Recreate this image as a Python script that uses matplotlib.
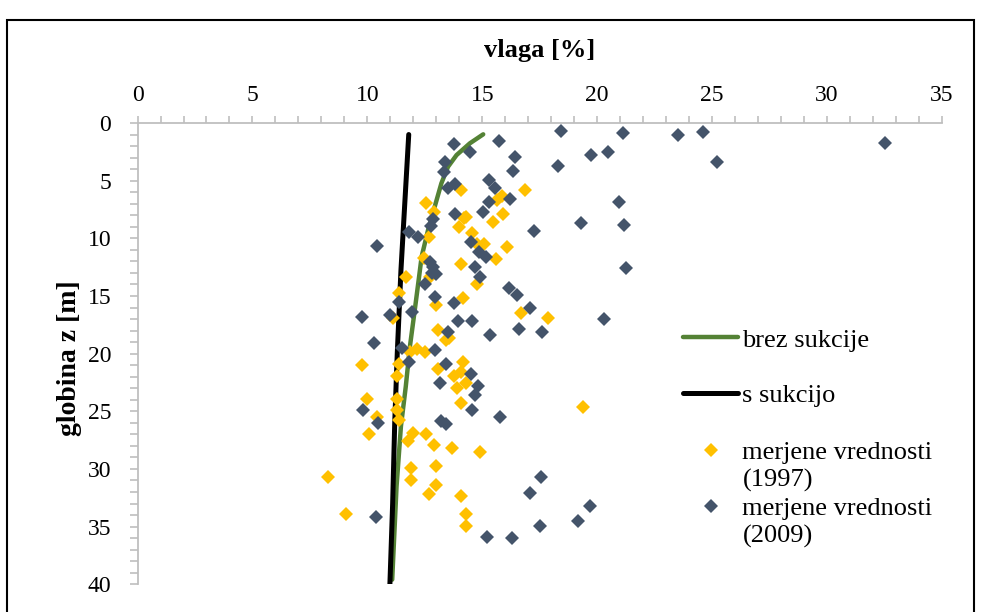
import numpy as np
import matplotlib.pyplot as plt
from matplotlib.patches import Rectangle
from matplotlib.lines import Line2D
from matplotlib.ticker import MultipleLocator

plt.rcParams['font.family'] = ['Liberation Serif', 'DejaVu Serif']

# modelirana profila vlage (vlaga [%], globina [m])
brez_vlaga = [15.04, 14.46, 13.88, 13.51, 13.22, 12.93, 12.64, 12.36, 12.25, 12.10, 11.85, 11.67, 11.46, 11.27, 11.08]
brez_z = [0.98, 1.76, 2.78, 3.79, 5.23, 7.26, 9.28, 11.6, 13.33, 15.64, 19.4, 22.87, 26.3, 31.5, 39.6]

s_vlaga = [11.80, 11.67, 11.46, 11.30, 11.19, 11.10, 10.98]
s_z = [1.0, 5.5, 12.8, 20.0, 26.0, 33.0, 40.0]

# meritve 1997
v1997 = [14.08, 16.88, 12.57, 12.89, 15.66, 15.86, 14.21, 14.28, 13.99, 15.47,
         15.88, 12.70, 14.57, 14.75, 15.08, 16.08, 12.46, 14.08, 15.59, 11.67,
         12.72, 14.76, 14.17, 11.38, 12.98, 16.67, 17.88, 11.12, 13.08, 13.40,
         13.54, 11.85, 12.18, 12.50, 9.77, 11.37, 11.28, 14.17, 13.08, 13.77,
         14.07, 13.89, 14.27, 9.99, 11.28, 14.07, 11.28, 10.40, 11.38, 19.38,
         10.08, 11.99, 11.77, 12.57, 12.88, 13.67, 14.88, 11.88, 12.98, 8.30,
         11.88, 12.98, 12.69, 14.07, 9.08, 14.27, 14.27]
z1997 = [5.78, 5.78, 6.93, 7.72, 6.68, 6.36, 8.27, 8.13, 8.99, 8.56,
         7.89, 9.89, 9.51, 10.50, 10.50, 10.73, 11.74, 12.23, 11.82, 13.33,
         13.33, 13.93, 15.15, 14.71, 15.76, 16.51, 16.88, 16.94, 17.95, 18.82,
         18.62, 19.86, 19.63, 19.86, 20.96, 20.87, 21.91, 20.76, 21.34, 21.94,
         21.57, 22.98, 22.55, 23.94, 23.91, 24.31, 24.89, 25.47, 25.76, 24.63,
         26.95, 26.91, 27.55, 26.95, 27.93, 28.19, 28.56, 29.95, 29.75, 30.67,
         30.93, 31.42, 32.15, 32.35, 33.91, 33.91, 34.95]

# meritve 2009
v2009 = [13.77, 14.46, 15.73, 13.37, 13.34, 13.80, 13.51, 16.44, 16.34, 18.30,
         15.28, 15.57, 16.22, 15.30, 15.05, 13.82, 12.86, 12.79, 11.82, 12.21,
         10.44, 17.23, 14.49, 14.86, 15.14, 14.67, 14.90, 12.72, 12.86, 12.83,
         12.97, 12.50, 16.17, 16.49, 12.96, 13.76, 11.38, 11.96, 10.98, 9.77,
         17.07, 13.96, 14.56, 16.59, 17.59, 15.34, 13.51, 10.28, 11.50, 12.96,
         11.82, 13.41, 14.49, 14.82, 13.14, 14.70, 9.80, 14.57, 15.76, 10.47,
         13.20, 13.40, 20.28, 17.54, 19.69, 19.17, 17.07, 10.37, 17.53, 15.22,
         16.30, 18.44, 21.12, 23.53, 24.59, 32.53, 19.72, 20.46, 25.23, 20.96,
         19.30, 21.17, 21.25]
z2009 = [1.82, 2.54, 1.56, 3.41, 4.22, 5.29, 5.67, 2.95, 4.16, 3.70,
         4.97, 5.61, 6.59, 6.88, 7.75, 7.92, 8.33, 8.93, 9.48, 9.89,
         10.64, 9.39, 10.29, 11.19, 11.59, 12.46, 13.33, 12.08, 12.46, 13.04,
         13.10, 13.96, 14.31, 14.92, 15.06, 15.61, 15.50, 16.39, 16.62, 16.83,
         16.07, 17.20, 17.20, 17.89, 18.15, 18.35, 18.13, 19.11, 19.49, 19.72,
         20.76, 20.87, 21.80, 22.84, 22.55, 23.62, 24.92, 24.86, 25.47, 25.99,
         25.85, 26.10, 17.00, 30.67, 33.19, 34.55, 32.12, 34.17, 34.92, 35.90,
         35.99, 0.72, 0.90, 1.01, 0.78, 1.76, 2.75, 2.52, 3.38, 6.88,
         8.70, 8.85, 12.58]

zelena = '#548235'
temna = '#44546A'
rumena = '#FFC000'
siva = '#BFBFBF'

fig = plt.figure(figsize=(9.81, 6.12), dpi=100)
ax = fig.add_axes([0.1402, 0.0453, 0.82, 0.7537])

l1, = ax.plot(brez_vlaga, brez_z, color=zelena, lw=3.2, solid_capstyle='round', label='brez sukcije')
l2, = ax.plot(s_vlaga, s_z, color='black', lw=3.6, solid_capstyle='round', label='s sukcijo')
m1, = ax.plot(v1997, z1997, 'D', color=rumena, ms=7.5, mew=0, label='merjene vrednosti')
m2, = ax.plot(v2009, z2009, 'D', color=temna, ms=7.5, mew=0, label='merjene vrednosti')

ax.set_xlim(0, 35)
ax.set_ylim(40, 0)
ax.xaxis.set_major_locator(MultipleLocator(5))
ax.xaxis.set_minor_locator(MultipleLocator(1))
ax.yaxis.set_major_locator(MultipleLocator(5))
ax.yaxis.set_minor_locator(MultipleLocator(1))
ax.xaxis.tick_top()

for s in ['right', 'bottom']:
    ax.spines[s].set_visible(False)
for s in ['top', 'left']:
    ax.spines[s].set_color(siva)
    ax.spines[s].set_linewidth(1.3)

ax.tick_params(axis='x', which='both', direction='out', length=5, width=1.2, color=siva, labelsize=17, pad=7)
ax.tick_params(axis='y', which='both', direction='out', length=6, width=1.2, color=siva, labelsize=17, pad=13)

ax.xaxis.set_label_position('top')
ax.set_xlabel('vlaga [%]', fontsize=19, fontweight='bold', va='center')
ax.xaxis.set_label_coords(0.5, 1.157)
ax.set_ylabel('globina z [m]', fontsize=20, fontweight='bold', va='center')
ax.yaxis.set_label_coords(-0.084, 0.49)

leg1 = ax.legend(handles=[l1, l2], loc='upper left', bbox_to_anchor=(0.665, 0.578),
                 frameon=False, fontsize=19, handlelength=2.1, handletextpad=0.15,
                 labelspacing=1.2, borderaxespad=0)
ax.add_artist(leg1)

# dvovrstični opisi meritev: oznaka ob prvi vrstici
prazno = Line2D([], [], linestyle='none')
ax.legend(handles=[m1, prazno, m2, prazno],
          labels=[m1.get_label(), '(1997)', m2.get_label(), '(2009)'],
          loc='upper left', bbox_to_anchor=(0.665, 0.335),
          frameon=False, fontsize=19, handlelength=2.1, handletextpad=0.15,
          labelspacing=0.17, borderaxespad=0)

# okvir grafa
fig.patches.append(Rectangle((7 / 981, -0.05), 967 / 981, 1.05 - 20 / 612,
                             transform=fig.transFigure, fill=False,
                             edgecolor='black', linewidth=1.5))

fig.savefig('out.png', dpi=100)
